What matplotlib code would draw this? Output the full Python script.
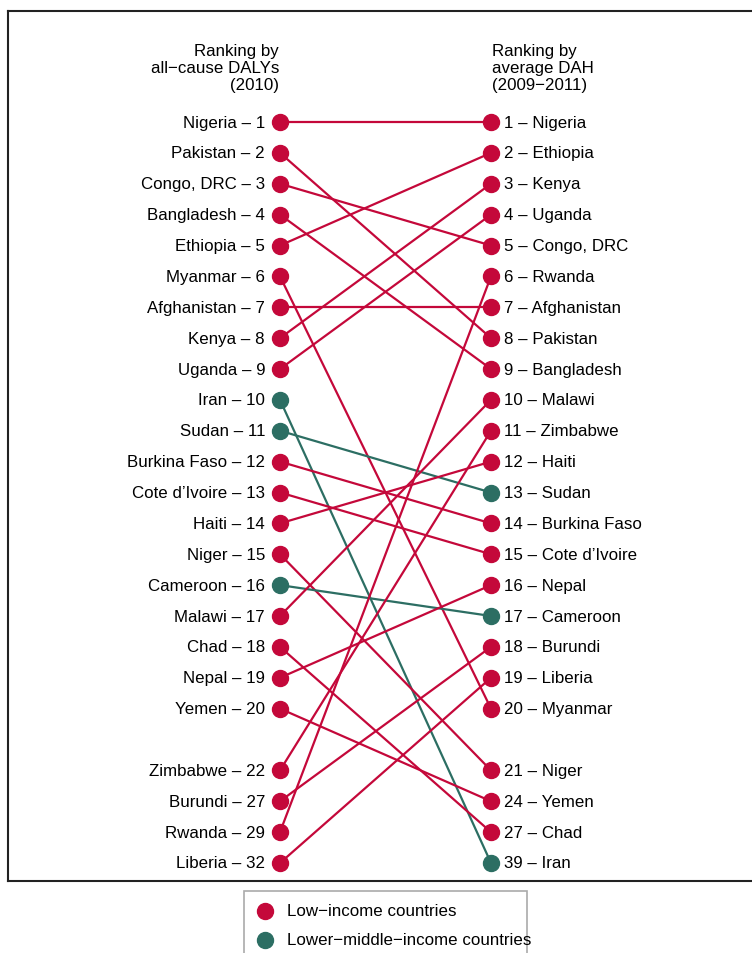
import matplotlib.pyplot as plt
import matplotlib.lines as mlines
from matplotlib.patches import Rectangle

plt.rcParams['font.family'] = ['Liberation Sans', 'DejaVu Sans']

# left column: ranking by all-cause DALYs (2010)
left_names = ['Nigeria', 'Pakistan', 'Congo, DRC', 'Bangladesh', 'Ethiopia', 'Myanmar',
              'Afghanistan', 'Kenya', 'Uganda', 'Iran', 'Sudan', 'Burkina Faso',
              "Cote d\u2019Ivoire", 'Haiti', 'Niger', 'Cameroon', 'Malawi', 'Chad',
              'Nepal', 'Yemen', 'Zimbabwe', 'Burundi', 'Rwanda', 'Liberia']
left_ranks = [1, 2, 3, 4, 5, 6, 7, 8, 9, 10, 11, 12, 13, 14, 15, 16, 17, 18, 19, 20,
              22, 27, 29, 32]

# right column: ranking by average DAH (2009-2011)
right_names = ['Nigeria', 'Ethiopia', 'Kenya', 'Uganda', 'Congo, DRC', 'Rwanda',
               'Afghanistan', 'Pakistan', 'Bangladesh', 'Malawi', 'Zimbabwe', 'Haiti',
               'Sudan', 'Burkina Faso', "Cote d\u2019Ivoire", 'Nepal', 'Cameroon',
               'Burundi', 'Liberia', 'Myanmar', 'Niger', 'Yemen', 'Chad', 'Iran']
right_ranks = [1, 2, 3, 4, 5, 6, 7, 8, 9, 10, 11, 12, 13, 14, 15, 16, 17, 18, 19, 20,
               21, 24, 27, 39]

lower_middle = ['Iran', 'Sudan', 'Cameroon']
legend_labels = ['Low\u2212income countries', 'Lower\u2212middle\u2212income countries']

red = '#c4083a'
teal = '#2c6e63'
fs = 12.2

def slot(i):
    # top 20 in order, then a blank row, then the rest
    return i + 1 if i < 20 else i + 2

left_slot = {n: slot(i) for i, n in enumerate(left_names)}
right_slot = {n: slot(i) for i, n in enumerate(right_names)}

W, H = 752, 954
fig = plt.figure(figsize=(W / 100, H / 100), dpi=100)
# frame goes off the right side of the image
ax = fig.add_axes([8/W, 1 - 882/H, 754/W, 870/H])
ax.set_xlim((8 - 280) / 211, (762 - 280) / 211)
ax.set_ylim(25 + 18 / 30.875, 1 - 111 / 30.875)
ax.set_xticks([])
ax.set_yticks([])
for s in ax.spines.values():
    s.set_linewidth(1.5)
    s.set_color('#222222')

for n in left_names:
    c = teal if n in lower_middle else red
    ax.plot([0, 1], [left_slot[n], right_slot[n]], color=c, lw=1.6, zorder=2)

for i, (n, r) in enumerate(zip(left_names, left_ranks)):
    c = teal if n in lower_middle else red
    y = slot(i)
    ax.plot(0, y, 'o', color=c, ms=11.5, zorder=3)
    ax.annotate(f'{n} \u2013 {r}', (0, y), xytext=(-10.8, 0), textcoords='offset points',
                ha='right', va='center', fontsize=fs)

for i, (n, r) in enumerate(zip(right_names, right_ranks)):
    c = teal if n in lower_middle else red
    y = slot(i)
    ax.plot(1, y, 'o', color=c, ms=11.5, zorder=3)
    ax.annotate(f'{r} \u2013 {n}', (1, y), xytext=(9.2, 0), textcoords='offset points',
                ha='left', va='center', fontsize=fs)

ax.text(-0.005, -1.56, 'Ranking by\nall\u2212cause DALYs\n(2010)', ha='right', va='top',
        fontsize=fs, linespacing=1.18)
ax.text(1.005, -1.56, 'Ranking by\naverage DAH\n(2009\u22122011)', ha='left', va='top',
        fontsize=fs, linespacing=1.18)

# legend box below the frame, cut off by the bottom edge
fig.add_artist(Rectangle((244/W, 1 - 962/H), 283/W, 70/H, transform=fig.transFigure,
                         fill=False, edgecolor='#aaaaaa', lw=1.2))
for k, (lab, c) in enumerate(zip(legend_labels, [red, teal])):
    yk = 1 - (912 + 29 * k) / H
    fig.add_artist(mlines.Line2D([265/W], [yk], transform=fig.transFigure, color=c,
                                 marker='o', ms=11.5, ls='none'))
    fig.text(287/W, yk, lab, ha='left', va='center', fontsize=fs)

fig.savefig('out.png', dpi=100)
